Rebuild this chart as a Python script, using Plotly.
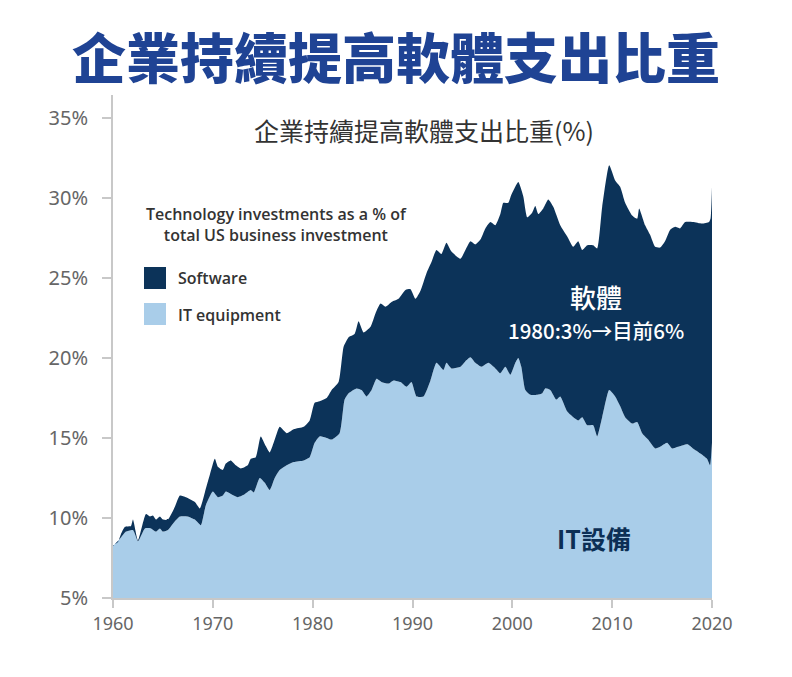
import plotly.graph_objects as go

# ---- data ----
years_total = [1960.0, 1960.5, 1960.8, 1961.2, 1961.8, 1962.0, 1962.5, 1963.3, 1963.7, 1964.0,
               1964.3, 1964.7, 1965.0, 1965.5, 1966.2, 1966.7, 1967.3, 1968.2, 1968.7, 1969.2,
               1969.7, 1970.2, 1970.5, 1971.0, 1971.3, 1971.8, 1972.3, 1972.8, 1973.5, 1973.8,
               1974.3, 1974.8, 1975.3, 1975.7, 1976.2, 1976.7, 1977.4, 1978.1, 1979.1, 1979.7,
               1980.2, 1980.7, 1981.4, 1981.9, 1982.6, 1983.1, 1983.6, 1984.2, 1984.6, 1985.1,
               1985.8, 1986.3, 1986.8, 1987.3, 1987.9, 1988.6, 1989.3, 1989.8, 1990.3, 1990.8,
               1991.4, 1991.9, 1992.4, 1992.9, 1993.4, 1993.9, 1994.8, 1995.3, 1995.8, 1996.3,
               1996.8, 1997.3, 1997.8, 1998.3, 1998.8, 1999.1, 1999.6, 1999.9, 2000.6, 2001.1,
               2001.5, 2002.0, 2002.3, 2002.6, 2003.1, 2003.6, 2004.1, 2004.8, 2005.5, 2006.1,
               2006.6, 2007.0, 2007.5, 2008.1, 2008.5, 2009.0, 2009.7, 2010.3, 2010.8, 2011.3,
               2012.0, 2012.5, 2012.7, 2013.3, 2013.8, 2014.3, 2014.8, 2015.3, 2015.8, 2016.3,
               2016.8, 2017.3, 2018.1, 2019.0, 2019.7, 2019.85, 2020.0]
total_tech = [8.3, 8.5, 9.0, 9.45, 9.5, 9.9, 8.6, 10.25, 10.1, 10.15,
              9.9, 10.1, 9.9, 9.9, 10.7, 11.4, 11.3, 11.0, 10.6, 11.6,
              12.7, 13.7, 13.2, 13.0, 13.4, 13.6, 13.3, 13.1, 13.3, 13.7,
              13.8, 15.1, 14.5, 14.1, 14.9, 15.7, 15.3, 15.55, 15.7, 16.1,
              17.2, 17.3, 17.5, 18.0, 18.5, 20.7, 21.3, 21.5, 22.3, 21.6,
              21.95, 22.8, 23.4, 23.2, 23.5, 23.7, 24.25, 24.3, 23.7, 24.2,
              25.3, 26.0, 26.75, 26.5, 27.2, 26.65, 26.2, 26.75, 27.3, 27.1,
              27.4, 28.1, 28.5, 28.3, 29.0, 29.7, 29.7, 30.2, 31.0, 30.1,
              28.8, 29.1, 29.5, 29.0, 29.35, 29.9, 29.45, 28.3, 27.6, 26.95,
              27.3, 26.75, 27.05, 27.05, 26.85, 29.45, 32.05, 31.1, 30.7, 29.7,
              28.9, 28.7, 29.35, 28.3, 27.7, 26.95, 26.9, 27.3, 28.0, 28.2,
              28.1, 28.5, 28.5, 28.4, 28.5, 28.7, 30.7]

years_it = [1960.0, 1960.7, 1961.3, 1962.0, 1962.5, 1963.2, 1963.8, 1964.3, 1964.7, 1965.0,
            1965.5, 1966.2, 1966.7, 1967.5, 1968.2, 1968.8, 1969.3, 1970.0, 1970.5, 1971.0,
            1971.3, 1971.8, 1972.5, 1973.1, 1973.8, 1974.1, 1974.7, 1975.2, 1975.7, 1976.2,
            1976.7, 1977.4, 1978.1, 1979.1, 1979.7, 1980.2, 1980.7, 1981.4, 1981.9, 1982.7,
            1983.2, 1983.6, 1984.4, 1984.9, 1985.4, 1985.9, 1986.4, 1986.9, 1987.6, 1988.1,
            1988.8, 1989.4, 1989.9, 1990.4, 1991.1, 1991.8, 1992.4, 1993.1, 1993.4, 1993.9,
            1994.8, 1995.3, 1995.8, 1996.3, 1996.9, 1997.6, 1998.3, 1998.8, 1999.3, 1999.8,
            2000.3, 2000.6, 2000.9, 2001.3, 2001.8, 2002.5, 2003.0, 2003.3, 2003.8, 2004.4,
            2004.8, 2005.5, 2006.1, 2006.6, 2007.0, 2007.5, 2008.1, 2008.5, 2009.0, 2009.7,
            2010.3, 2010.8, 2011.3, 2012.0, 2012.5, 2013.0, 2013.6, 2014.3, 2014.8, 2015.5,
            2016.0, 2016.6, 2017.1, 2017.6, 2018.1, 2018.8, 2019.5, 2019.8, 2020.0]
it_equipment = [8.25, 8.7, 9.15, 9.25, 8.55, 9.35, 9.35, 9.15, 9.35, 9.15,
                9.25, 9.8, 10.1, 10.1, 9.9, 9.55, 10.8, 11.65, 11.3, 11.4,
                11.65, 11.5, 11.3, 11.45, 11.75, 11.6, 12.5, 12.2, 11.75, 12.5,
                13.0, 13.3, 13.5, 13.6, 13.8, 14.7, 15.1, 15.0, 14.9, 15.3,
                17.4, 17.8, 18.1, 18.0, 17.6, 18.0, 18.7, 18.5, 18.4, 18.6,
                18.5, 18.2, 18.5, 17.6, 17.6, 18.6, 19.7, 19.25, 19.7, 19.35,
                19.45, 19.8, 20.05, 19.7, 19.45, 19.7, 19.35, 19.05, 19.45, 18.95,
                19.7, 20.0, 19.45, 18.0, 17.7, 17.7, 17.8, 18.1, 18.0, 17.4,
                17.6, 16.65, 16.3, 16.1, 16.3, 15.8, 15.8, 15.1, 16.3, 18.0,
                17.6, 17.0, 16.3, 15.9, 16.0, 15.3, 14.9, 14.35, 14.45, 14.7,
                14.35, 14.45, 14.55, 14.6, 14.35, 14.05, 13.7, 13.3, 14.7]

y_ticks = [5, 10, 15, 20, 25, 30, 35]
y_tick_labels = ["5%", "10%", "15%", "20%", "25%", "30%", "35%"]
x_ticks = [1960, 1970, 1980, 1990, 2000, 2010, 2020]

DARK = "#0c3359"
LIGHT = "#a9cde9"
CJK = "Noto Sans CJK TC"

# page offset (default body margin of the html page)
OFF = 8
W, H = 792 - OFF, 677 - OFF
# plot area in page pixels
L, R, T, B = 113, 712, 95, 598


def px(x):
    return (x - L) / (R - L)


def py(y):
    return (B - y) / (B - T)


fig = go.Figure()
fig.add_trace(go.Scatter(
    x=years_it, y=it_equipment, name="IT equipment", mode="lines",
    line=dict(width=0, shape="spline", smoothing=0.5, color=LIGHT),
    fill="tozeroy", fillcolor=LIGHT, showlegend=False, hoverinfo="skip"))
fig.add_trace(go.Scatter(
    x=years_total, y=total_tech, name="Software", mode="lines",
    line=dict(width=0, shape="spline", smoothing=0.5, color=DARK),
    fill="tonexty", fillcolor=DARK, showlegend=False, hoverinfo="skip"))

annotations = [
    dict(text="企業持續提高軟體支出比重", x=px(396), y=py(55), xref="paper", yref="paper",
         showarrow=False, xanchor="center", yanchor="middle",
         font=dict(family=CJK, size=54, color="#1f4394", weight=900)),
    dict(text="企業持續提高軟體支出比重(%)", x=px(424), y=py(130), xref="paper", yref="paper",
         showarrow=False, xanchor="center", yanchor="middle",
         font=dict(family=CJK, size=25, color="#333333")),
    dict(text="Technology investments as a % of<br>total US business investment",
         x=px(276), y=py(225), xref="paper", yref="paper",
         showarrow=False, xanchor="center", yanchor="middle", align="center",
         font=dict(family="Open Sans", size=16, color="#333333", weight=600)),
    dict(text="Software", x=px(176), y=py(278), xref="paper", yref="paper",
         showarrow=False, xanchor="left", yanchor="middle",
         font=dict(family="Open Sans", size=16, color="#333333", weight=600)),
    dict(text="IT equipment", x=px(176), y=py(315), xref="paper", yref="paper",
         showarrow=False, xanchor="left", yanchor="middle",
         font=dict(family="Open Sans", size=16, color="#333333", weight=600)),
    dict(text="軟體", x=px(596), y=py(296), xref="paper", yref="paper",
         showarrow=False, xanchor="center", yanchor="middle",
         font=dict(family=CJK, size=26, color="white", weight=500)),
    dict(text="1980:3%→目前6%", x=px(596), y=py(330), xref="paper", yref="paper",
         showarrow=False, xanchor="center", yanchor="middle",
         font=dict(family=CJK, size=20.5, color="white", weight=500)),
    dict(text="IT設備", x=px(594), y=py(538), xref="paper", yref="paper",
         showarrow=False, xanchor="center", yanchor="middle",
         font=dict(family=CJK, size=25, color="#0c2f55", weight=700)),
]

shapes = [
    dict(type="rect", xref="paper", yref="paper", x0=px(144), x1=px(166), y0=py(289), y1=py(267),
         fillcolor=DARK, line=dict(width=0)),
    dict(type="rect", xref="paper", yref="paper", x0=px(144), x1=px(166), y0=py(325), y1=py(303),
         fillcolor=LIGHT, line=dict(width=0)),
]

fig.update_layout(
    width=W, height=H,
    margin=dict(l=L - OFF, r=W - (R - OFF), t=T - OFF, b=H - (B - OFF), pad=0),
    paper_bgcolor="white", plot_bgcolor="white",
    showlegend=False,
    annotations=annotations, shapes=shapes,
    xaxis=dict(range=[1960, 2020], tickvals=x_ticks, showgrid=False, zeroline=False,
               showline=True, linecolor="#c8c8c8", linewidth=2,
               ticks="outside", ticklen=8, tickcolor="#c8c8c8", tickwidth=1.5,
               tickfont=dict(family="Noto Sans", size=18, color="#666666")),
    yaxis=dict(range=[5, 5 + (B - T) / 16.0], tickvals=y_ticks, ticktext=y_tick_labels,
               showgrid=False, zeroline=False,
               showline=True, linecolor="#c8c8c8", linewidth=2,
               ticks="outside", ticklen=9, tickcolor="#c8c8c8", tickwidth=1.5,
               ticklabelstandoff=10,
               tickfont=dict(family="Noto Sans", size=20, color="#666666")),
)

fig.write_html("out.html")
